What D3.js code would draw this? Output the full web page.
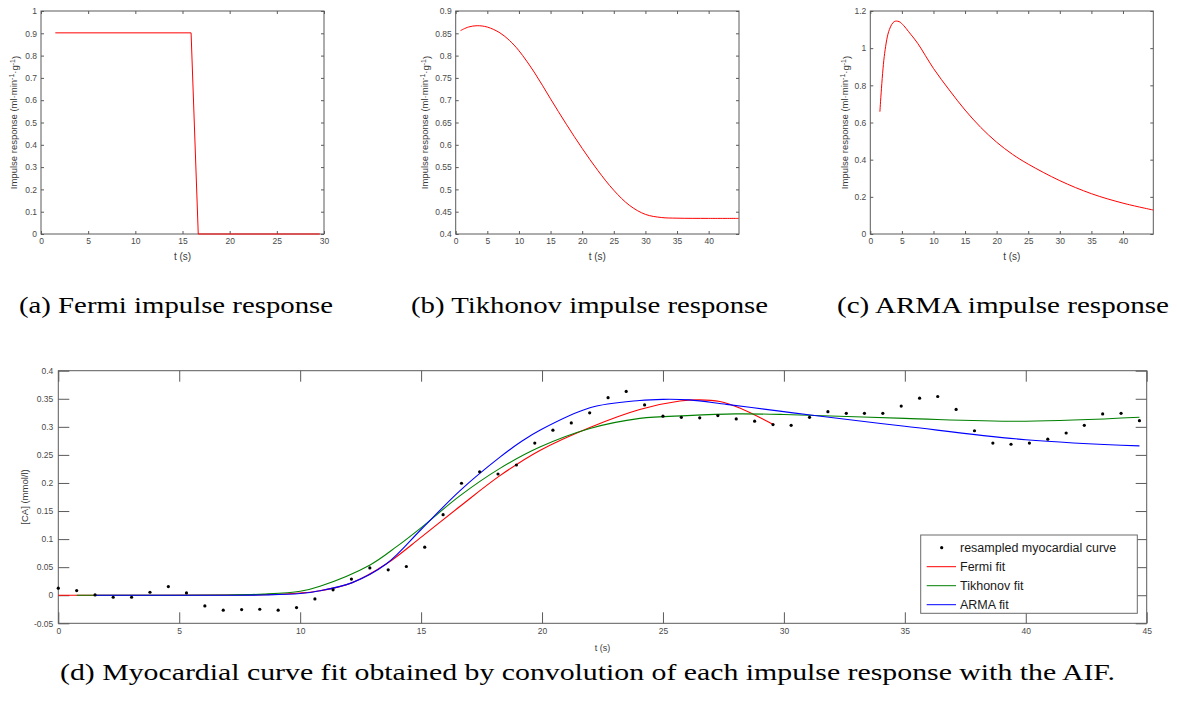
<!DOCTYPE html>
<html>
<head>
<meta charset="utf-8">
<script src="https://cdn.jsdelivr.net/npm/d3@7"></script>
<style>
  body { margin: 0; background: #fff; }
  svg { display: block; }
  .tk text { font-family: "Liberation Sans", Arial, sans-serif; fill: #4a4a4a; }
  .tk path, .tk line { stroke: #5a5a5a; }
  .lab { font-family: "Liberation Sans", Arial, sans-serif; fill: #3a3a3a; }
  .cap { font-family: "Liberation Serif", serif; fill: #000; }
</style>
</head>
<body>
<script>
// (a) Fermi impulse response
let fermiT = [1.52, 15.91, 16.67, 29.55];
let fermiR = [0.902, 0.902, 0, 0];

// (b) Tikhonov impulse response
let tikT = [0.76, 2, 3.4, 5, 7, 8.5, 10, 12.5, 15, 17.5, 20, 22.5, 25, 27.5, 30, 32.5, 35, 40, 44.75];
let tikR = [0.856, 0.864, 0.867, 0.864, 0.851, 0.834, 0.811, 0.761, 0.703, 0.646, 0.592, 0.542, 0.498, 0.464, 0.444, 0.437, 0.4355, 0.435, 0.435];

// (c) ARMA impulse response
let armaT = [1.52, 2.27, 3.03, 3.79, 4.55, 5.3, 6.06, 7.5, 10, 12.5, 15, 17.5, 20, 22.5, 25, 30, 35, 40, 44.8];
let armaR = [0.658, 0.972, 1.101, 1.143, 1.143, 1.121, 1.089, 1.026, 0.891, 0.775, 0.667, 0.573, 0.494, 0.429, 0.376, 0.287, 0.217, 0.166, 0.129];

// (d) resampled myocardial curve
let myoT = [0, 0.76, 1.52, 2.27, 3.03, 3.79, 4.55, 5.3, 6.06, 6.82, 7.58, 8.33, 9.09, 9.85, 10.61, 11.36, 12.12, 12.88, 13.64, 14.39,
  15.15, 15.91, 16.67, 17.42, 18.18, 18.94, 19.7, 20.45, 21.21, 21.97, 22.73, 23.48, 24.24, 25, 25.76, 26.52, 27.27, 28.03, 28.79, 29.55,
  30.3, 31.06, 31.82, 32.58, 33.33, 34.09, 34.85, 35.61, 36.36, 37.12, 37.88, 38.64, 39.39, 40.15, 40.91, 41.67, 42.42, 43.18, 43.94, 44.7];
let myoC = [0.0125, 0.0083, 0.0006, -0.0036, -0.0036, 0.0053, 0.0154, 0.0042, -0.019, -0.0267, -0.0255, -0.025, -0.0267, -0.022, -0.0065, 0.0097, 0.0287, 0.0487, 0.0453, 0.0512,
  0.0857, 0.1436, 0.1995, 0.220, 0.216, 0.232, 0.271, 0.294, 0.307, 0.325, 0.352, 0.363, 0.339, 0.319, 0.317, 0.316, 0.320, 0.314, 0.310, 0.304,
  0.3026, 0.317, 0.327, 0.324, 0.324, 0.324, 0.337, 0.351, 0.354, 0.331, 0.293, 0.271, 0.269, 0.271, 0.278, 0.289, 0.3026, 0.323, 0.324, 0.311];

// fits
let fermiFitT = [0, 4, 7, 8.5, 10, 10.82, 12.13, 13.57, 15.02, 16.6, 18.26, 19.91, 21.98, 24.04, 25.7, 26.5, 27.35, 28.2, 29.56];
let fermiFitC = [0, 0, 0.0003, 0.001, 0.004, 0.008, 0.022, 0.056, 0.104, 0.158, 0.213, 0.258, 0.299, 0.331, 0.346, 0.348, 0.345, 0.333, 0.304];
let tikFitT = [0.76, 4, 7, 8.5, 10, 10.82, 12.89, 14, 15.02, 16.6, 18.26, 19.91, 21.98, 24.04, 26, 28, 30, 35, 40, 44.7];
let tikFitC = [0, 0, 0.0005, 0.002, 0.007, 0.016, 0.054, 0.087, 0.121, 0.177, 0.226, 0.264, 0.297, 0.315, 0.320, 0.323, 0.322, 0.315, 0.310, 0.317];
let armaFitT = [1.52, 4, 7, 8.5, 10, 10.82, 12.13, 13.57, 15.02, 16.6, 18.26, 19.22, 19.91, 21.98, 24.04, 25, 26.1, 27.63, 29.83, 31.1, 35, 40, 44.7];
let armaFitC = [0, 0, 0, 0.0005, 0.003, 0.008, 0.022, 0.056, 0.118, 0.186, 0.246, 0.276, 0.294, 0.334, 0.347, 0.349, 0.348, 0.340, 0.328, 0.321, 0.301, 0.277, 0.266];

let legendNames = ["resampled myocardial curve", "Fermi fit", "Tikhonov fit", "ARMA fit"];

let W = 1177, H = 715;
let svg = d3.select("body").append("svg").attr("width", W).attr("height", H);

let fmt = d => String(+d.toFixed(2));
let smooth = d3.curveCatmullRom.alpha(0.5);

function panel(o) {
  let x = d3.scaleLinear().domain(o.xd).range([o.l, o.r]);
  let y = d3.scaleLinear().domain(o.yd).range([o.b, o.t]);
  let g = svg.append("g");
  let mk = (ax, tr) => g.append("g").attr("class", "tk").attr("transform", tr).call(ax)
    .call(s => s.select(".domain").remove())
    .call(s => s.selectAll("text").style("font-size", o.fs + "px"));
  mk(d3.axisBottom(x).tickValues(o.xt).tickSize(-o.tl).tickPadding(o.pad).tickFormat(fmt), `translate(0,${o.b})`);
  mk(d3.axisTop(x).tickValues(o.xt).tickSize(-o.tl).tickFormat(""), `translate(0,${o.t})`);
  mk(d3.axisLeft(y).tickValues(o.yt).tickSize(-o.tl).tickPadding(o.pad).tickFormat(fmt), `translate(${o.l},0)`);
  mk(d3.axisRight(y).tickValues(o.yt).tickSize(-o.tl).tickFormat(""), `translate(${o.r},0)`);
  g.append("rect").attr("x", o.l).attr("y", o.t).attr("width", o.r - o.l).attr("height", o.b - o.t)
    .attr("fill", "none").attr("stroke", "#5a5a5a").attr("stroke-width", 1);
  g.append("text").attr("class", "lab").attr("x", (o.l + o.r) / 2).attr("y", o.xly)
    .attr("text-anchor", "middle").style("font-size", o.lfs + "px").text("t (s)");
  return { g, x, y };
}

function ylabIR(p, cx) {
  let t = p.g.append("text").attr("class", "lab").attr("text-anchor", "middle")
    .attr("transform", `translate(${cx},122.5) rotate(-90)`).style("font-size", "9.5px");
  t.append("tspan").text("Impulse response (ml\u00b7min");
  t.append("tspan").attr("dy", "-0.45em").style("font-size", "7px").text("-1");
  t.append("tspan").attr("dy", "0.45em").text("\u00b7g");
  t.append("tspan").attr("dy", "-0.45em").style("font-size", "7px").text("-1");
  t.append("tspan").attr("dy", "0.45em").text(")");
}

function curve(p, T, V, color, w, interp) {
  let pts = T.map((t, i) => [t, V[i]]);
  p.g.append("path").datum(pts).attr("fill", "none").attr("stroke", color).attr("stroke-width", w)
    .attr("d", d3.line().x(d => p.x(d[0])).y(d => p.y(d[1])).curve(interp));
}

let topCommon = { t: 11, b: 234, tl: 3, pad: 4, fs: 8.5, lfs: 10, xly: 260 };

let pa = panel(Object.assign({}, topCommon, { l: 41, r: 324, xd: [0, 30], yd: [0, 1],
  xt: d3.range(0, 31, 5), yt: d3.range(0, 1.01, 0.1) }));
curve(pa, fermiT, fermiR, "#ff0000", 1, d3.curveLinear);
ylabIR(pa, 17);

let pb = panel(Object.assign({}, topCommon, { l: 455.7, r: 739, xd: [0, 44.8], yd: [0.4, 0.9],
  xt: d3.range(0, 41, 5), yt: d3.range(0.4, 0.901, 0.05) }));
curve(pb, tikT, tikR, "#ff0000", 1, smooth);
ylabIR(pb, 428);

let pc = panel(Object.assign({}, topCommon, { l: 870.3, r: 1153.3, xd: [0, 44.8], yd: [0, 1.2],
  xt: d3.range(0, 41, 5), yt: d3.range(0, 1.21, 0.2) }));
curve(pc, armaT, armaR, "#ff0000", 1, smooth);
ylabIR(pc, 848);

let pd = panel({ l: 58.3, r: 1146.7, t: 370.7, b: 623.3, tl: 11, pad: 5, fs: 8.5, lfs: 9, xly: 651,
  xd: [0, 45], yd: [-0.05, 0.4], xt: d3.range(0, 46, 5), yt: d3.range(-0.05, 0.401, 0.05) });
curve(pd, fermiFitT, fermiFitC, "#ff0000", 1.1, smooth);
curve(pd, tikFitT, tikFitC, "#008000", 1.1, smooth);
curve(pd, armaFitT, armaFitC, "#0000ff", 1.1, smooth);
pd.g.selectAll("circle.myo").data(myoT).join("circle").attr("class", "myo")
  .attr("cx", d => pd.x(d)).attr("cy", (d, i) => pd.y(myoC[i])).attr("r", 1.6).attr("fill", "#000");
pd.g.append("text").attr("class", "lab").attr("text-anchor", "middle")
  .attr("transform", "translate(28,497) rotate(-90)").style("font-size", "9.5px").text("[CA] (mmol/l)");

// legend
let lg = pd.g.append("g");
lg.append("rect").attr("x", 920.7).attr("y", 535).attr("width", 216.6).attr("height", 78.3)
  .attr("fill", "#fff").attr("stroke", "#6a6a6a").attr("stroke-width", 1);
let legColors = [null, "#ff0000", "#008000", "#0000ff"];
legendNames.forEach((name, i) => {
  let yy = 547.7 + i * 19;
  if (i === 0) {
    lg.append("circle").attr("cx", 941.7).attr("cy", yy).attr("r", 1.6).attr("fill", "#000");
  } else {
    lg.append("line").attr("x1", 926.7).attr("x2", 956).attr("y1", yy).attr("y2", yy)
      .attr("stroke", legColors[i]).attr("stroke-width", 1);
  }
  lg.append("text").attr("class", "lab").attr("x", 960).attr("y", yy).attr("dy", "0.35em")
    .style("font-size", "12.5px").style("fill", "#1a1a1a").text(name);
});

// captions
let caps = [
  { s: "(a) Fermi impulse response", x: 19, w: 314, y: 313 },
  { s: "(b) Tikhonov impulse response", x: 411, w: 357, y: 313 },
  { s: "(c) ARMA impulse response", x: 837, w: 332, y: 313 },
  { s: "(d) Myocardial curve fit obtained by convolution of each impulse response with the AIF.", x: 60, w: 1055, y: 680 }
];
svg.selectAll("text.cap").data(caps).join("text").attr("class", "cap")
  .attr("x", d => d.x).attr("y", d => d.y).attr("textLength", d => d.w).attr("lengthAdjust", "spacingAndGlyphs")
  .style("font-size", "24px").text(d => d.s);
</script>
</body>
</html>
